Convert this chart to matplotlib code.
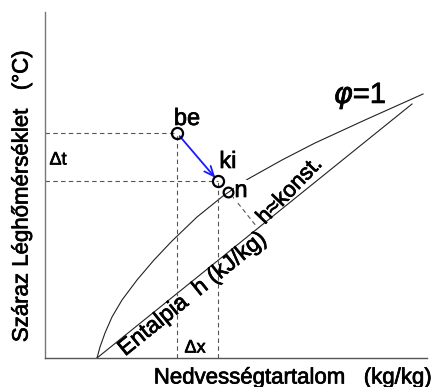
import matplotlib
matplotlib.use("Agg")
import matplotlib.pyplot as plt
import matplotlib.patheffects as pe

plt.rcParams['font.family'] = ['Liberation Sans', 'DejaVu Sans']
plt.rcParams['mathtext.fontset'] = 'dejavusans'

# Saturation curve (phi = 1), arbitrary units
sat_x = [52, 55, 60, 67, 77, 92, 109, 127, 152, 178, 203, 237, 270, 320, 378]
sat_y = [0, 11, 25, 41, 58, 78, 98, 117, 141, 162, 179, 198, 215, 238, 264]

# Enthalpy line
ent_x = [52, 145, 367]
ent_y = [0, 75, 254]

# State points
be = (132, 225)
ki = (173, 177)
n_pt = (183, 166)
hk_end = (212, 131)

W, H = 434, 387
fig = plt.figure(figsize=(W / 100, H / 100), dpi=100)
ax = fig.add_axes([45 / W, 29 / H, 382 / W, 346 / H])
ax.set_xlim(0, 382)
ax.set_ylim(0, 346)
for s in ['top', 'right']:
    ax.spines[s].set_visible(False)
ax.spines['left'].set_color('#777777')
ax.spines['bottom'].set_color('#555555')
ax.spines['left'].set_linewidth(1.0)
ax.spines['bottom'].set_linewidth(1.0)
ax.set_xticks([])
ax.set_yticks([])

bold = [pe.withStroke(linewidth=0.5, foreground='black')]

ax.plot(sat_x, sat_y, color='#222222', lw=0.8)
ax.plot(ent_x, ent_y, color='#222222', lw=0.8)

dash = dict(color='#555555', lw=0.8, ls=(0, (4, 3)))
ax.plot([0, be[0]], [be[1], be[1]], **dash)
ax.plot([0, ki[0]], [ki[1], ki[1]], **dash)
ax.plot([be[0], be[0]], [0, be[1]], **dash)
ax.plot([ki[0], ki[0]], [0, ki[1]], **dash)
ax.plot([n_pt[0] + 5, hk_end[0]], [n_pt[1] - 5, hk_end[1]], **dash)

ax.annotate('', xy=ki, xytext=be,
            arrowprops=dict(arrowstyle='->,head_length=0.7,head_width=0.3',
                            color='#1a1aff', lw=1.3, shrinkA=3, shrinkB=3))

ax.text(196, 167, 'n', fontsize=17, ha='center', va='center', path_effects=bold,
        bbox=dict(facecolor='white', edgecolor='none', pad=0.3), zorder=4)

ax.plot([be[0], ki[0]], [be[1], ki[1]], ls='none', marker='o', ms=8,
        mfc='none', mec='black', mew=1.6, zorder=5)
ax.plot([n_pt[0]], [n_pt[1]], ls='none', marker='o', ms=7,
        mfc='none', mec='black', mew=1.6, zorder=5)

ax.text(be[0] + 10, be[1] + 14, 'be', fontsize=17, ha='center', va='center',
        path_effects=bold)
ax.text(ki[0] + 10, ki[1] + 19, 'ki', fontsize=17, ha='center', va='center',
        path_effects=bold)
ax.text(315, 262, r'$\varphi$=1', fontsize=21, ha='center', va='center',
        path_effects=bold)
ax.text(13, 198, 'Δt', fontsize=13, ha='center', va='center', path_effects=bold)
ax.text(150, 10, 'Δx', fontsize=13, ha='center', va='center', path_effects=bold)
ax.text(245, 167, 'h≈konst.', fontsize=16, ha='center', va='center',
        rotation=46, rotation_mode='anchor', path_effects=bold)
ax.text(147, 64, 'Entalpia  h (kJ/kg)', fontsize=16.5, ha='center', va='center',
        rotation=39, rotation_mode='anchor', path_effects=bold)

fig.text(293 / W, 1 - 378 / H, 'Nedvességtartalom   (kg/kg)', fontsize=16,
         ha='center', va='center', path_effects=bold)
fig.text(22 / W, 1 - 196 / H, 'Száraz Léghőmérséklet   (°C)', fontsize=16,
         ha='center', va='center', rotation=90, path_effects=bold)

fig.savefig('out.png', dpi=100)
